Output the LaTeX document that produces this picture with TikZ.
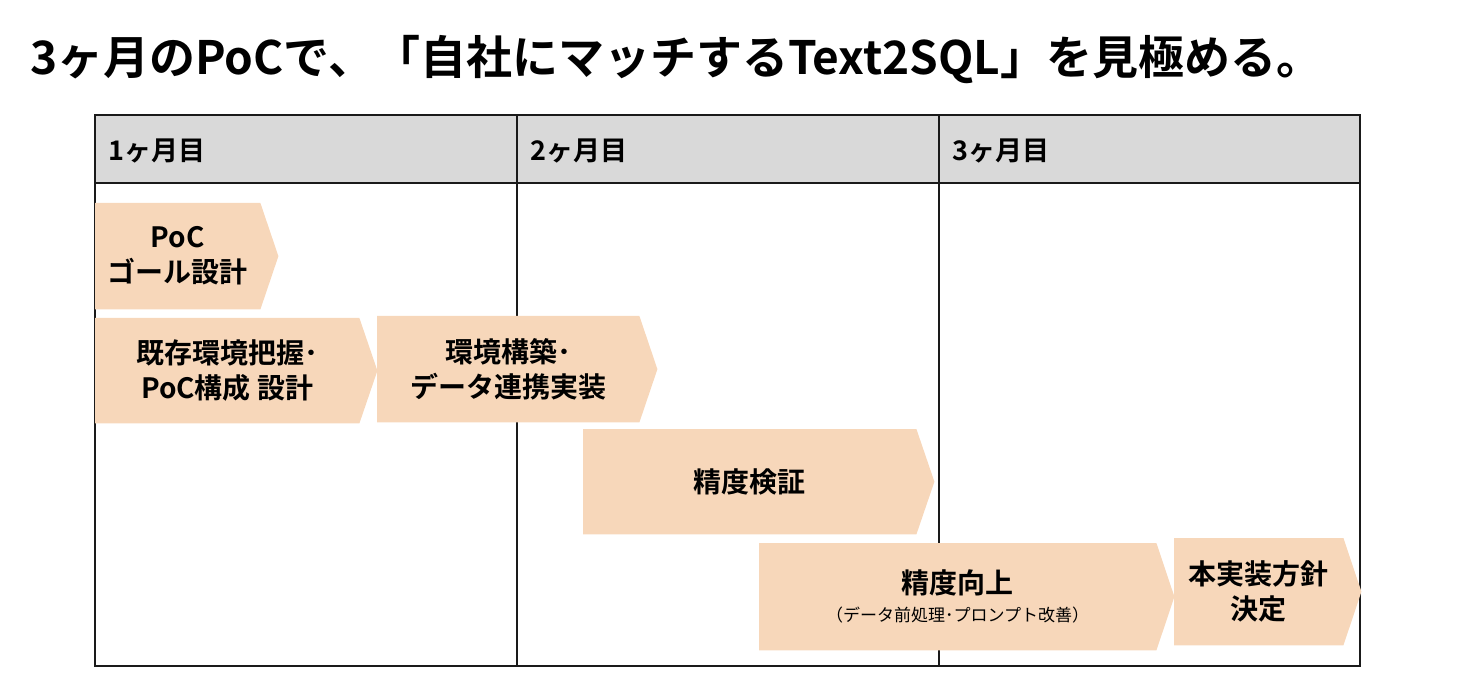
\documentclass[tikz,border=0pt]{standalone}
\usepackage{fontspec}
\setmainfont{Noto Sans CJK JP}[BoldFont={Noto Sans CJK JP Bold}]
\usetikzlibrary{calc}
\definecolor{peach}{HTML}{F7D7BA}
\definecolor{hdrgray}{HTML}{D9D9D9}
\definecolor{gridline}{HTML}{1A1A1A}
\pgfdeclarelayer{tablelayer}
\pgfdeclarelayer{chevlayer}
\pgfsetlayers{tablelayer,chevlayer,main}
\begin{document}
\begin{tikzpicture}[x=1pt,y=-1pt,
  chevbody/.style={inner sep=0pt, align=center, anchor=north west,
    font=\fontsize{28}{35}\selectfont\bfseries},
  chevfill/.style={fill=peach},
  hdrtext/.style={anchor=west, inner sep=0pt, font=\fontsize{27}{30}\selectfont\bfseries},
  tablebox/.style={draw=gridline, line width=1.4pt}]
\useasboundingbox (0,0) rectangle (1464,684);
% title
\node[anchor=west, inner sep=0pt, font=\fontsize{46}{52}\selectfont\bfseries] (title) at (30,60)
  {3ヶ月のPoCで、「自社にマッチするText2SQL」を見極める。};
% table
\begin{pgfonlayer}{tablelayer}
\coordinate (tl) at (95,115);
\coordinate (br) at (1360,666);
\fill[hdrgray] (tl) rectangle (1360,183);
\draw[tablebox] (tl) rectangle (br);
\draw[tablebox] (95,183) -- (1360,183);
\draw[tablebox] (517,115) -- (517,666);
\draw[tablebox] (939,115) -- (939,666);
\end{pgfonlayer}
\node[hdrtext] (h1) at (108,151) {1ヶ月目};
\node[hdrtext] (h2) at (530,151) {2ヶ月目};
\node[hdrtext] (h3) at (952,151) {3ヶ月目};
% chevrons
\node[chevbody, minimum width=165pt, minimum height=106pt] (c1) at (95,203) {PoC\\ゴール設計};
\node[chevbody, minimum width=264pt, minimum height=105pt] (c2) at (95,318) {既存環境把握･\\PoC構成 設計};
\node[chevbody, minimum width=262pt, minimum height=106pt] (c3) at (377,316) {環境構築･\\データ連携実装};
\node[chevbody, minimum width=333pt, minimum height=105pt] (c4) at (583,429) {精度検証};
\node[chevbody, minimum width=397pt, minimum height=107pt] (c5) at (759,543)
  {精度向上\\[-7pt]{\fontsize{17}{20}\selectfont\mdseries （データ前処理･プロンプト改善）}};
\node[chevbody, minimum width=169pt, minimum height=107pt] (c6) at (1174,538) {本実装方針\\決定};
\begin{pgfonlayer}{chevlayer}
\foreach \n in {c1,c2,c3,c4,c5,c6}{
  \fill[chevfill] (\n.north west) -- (\n.north east) -- ($(\n.east)+(18,0)$)
    -- (\n.south east) -- (\n.south west) -- cycle;
}
\end{pgfonlayer}
\end{tikzpicture}
\end{document}
